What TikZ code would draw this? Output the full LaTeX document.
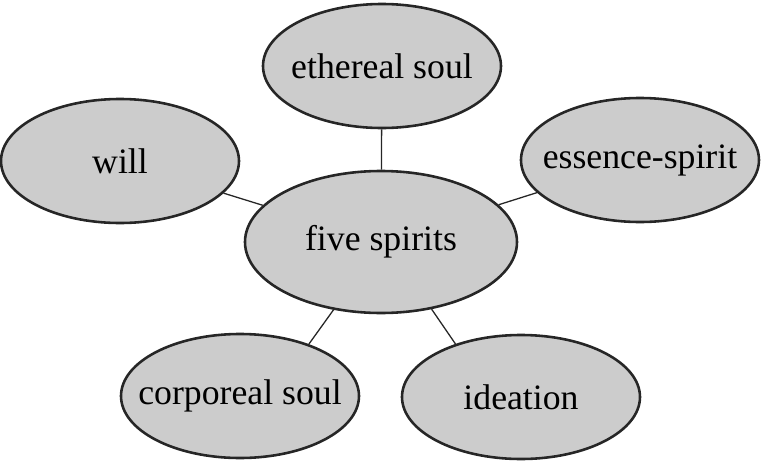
\documentclass[tikz,border=0pt]{standalone}
\usepackage{fontspec}
\setmainfont{Liberation Serif}
\usetikzlibrary{shapes.geometric}

\tikzset{
    spirit/.style={ellipse, draw=black!85, line width=2.2pt, fill=black!20,
        inner sep=0pt, minimum width=7.14cm, minimum height=3.72cm,
        font=\fontsize{30.5}{36}\selectfont},
    centre/.style={spirit, minimum width=8.16cm, minimum height=4.26cm},
    link/.style={draw=black!85, line width=1.1pt}
}

\begin{document}
\begin{tikzpicture}[x=0.3mm, y=-0.3mm]
        \useasboundingbox (0,0) rectangle (762,461);
        \node[centre] (five) at (381,242) {\makebox[0pt]{five spirits}};
        \node[spirit] (ethereal) at (382,66) {\makebox[0pt]{ethereal soul}};
        \node[spirit] (will) at (120,161) {\makebox[0pt]{will}};
        \node[spirit] (essence) at (640,160) {\makebox[0pt]{essence-spirit}};
        \node[spirit] (corporeal) at (240,396) {\makebox[0pt]{corporeal soul}};
        \node[spirit] (ideation) at (521,397) {\makebox[0pt]{ideation}};
        \draw[link] (ethereal) -- (five);
        \draw[link] (will) -- (five);
        \draw[link] (essence) -- (five);
        \draw[link] (five.-125) -- (corporeal.37);
        \draw[link] (five.-53) -- (ideation.141);
    \end{tikzpicture}
\end{document}
